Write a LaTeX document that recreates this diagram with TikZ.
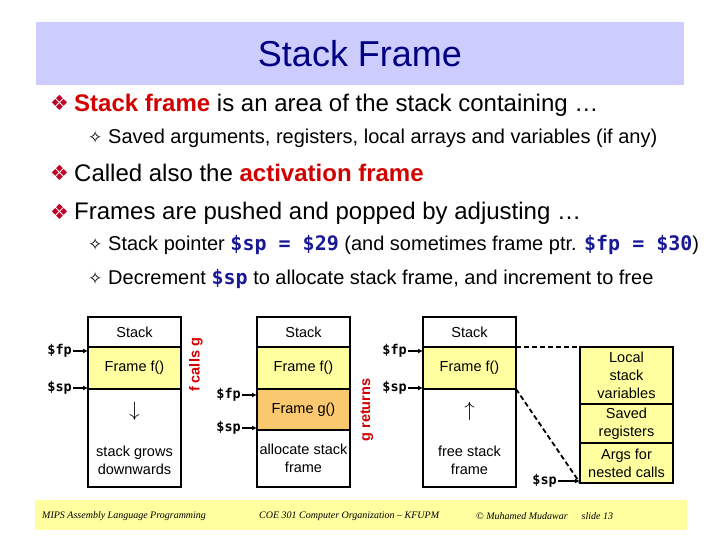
\documentclass[tikz,border=0pt]{standalone}
\usepackage{fontspec}
\setmainfont{Liberation Sans}
\newfontfamily\symfont{DejaVu Sans}
\newfontfamily\codefont{DejaVu Sans Mono}
\newfontfamily\footfont{Liberation Serif}
\usetikzlibrary{arrows.meta, positioning}

\definecolor{titlebar}{RGB}{204,204,255}
\definecolor{titleblue}{RGB}{0,0,128}
\definecolor{keyred}{RGB}{210,0,0}
\definecolor{bulletred}{RGB}{190,0,40}
\definecolor{regblue}{RGB}{25,25,150}
\definecolor{frameyellow}{RGB}{255,255,160}
\definecolor{frameorange}{RGB}{250,200,110}
\definecolor{footyellow}{RGB}{255,255,160}

\newcommand\diabullet{\makebox[24pt][l]{\raisebox{1pt}{\textcolor{bulletred}{\symfont\fontsize{21}{21}\selectfont ❖}}}}
\newcommand\starbullet{\makebox[20pt][l]{\symfont\fontsize{17}{17}\selectfont ✧}}
\newcommand\regname[1]{\textcolor{regblue}{\codefont\bfseries #1}}

\begin{document}
\begin{tikzpicture}[x=1pt, y=-1pt,
    lvlone/.style={anchor=base west, inner sep=0pt, font=\fontsize{24}{28}\selectfont},
    lvltwo/.style={anchor=base west, inner sep=0pt, font=\fontsize{20}{24}\selectfont},
    cell/.style={rectangle, draw, line width=1.7pt, outer sep=0pt, inner sep=0pt,
        minimum width=93pt, align=center, font=\fontsize{14.5}{18}\selectfont},
    ptrlabel/.style={font=\codefont\bfseries\fontsize{13.5}{15}\selectfont, inner sep=1pt},
    ptr/.style={-{Latex[length=5pt,width=5pt]}, line width=1.4pt},
    sidenote/.style={rotate=90, text=keyred, font=\bfseries\fontsize{14.5}{16}\selectfont},
    dashline/.style={dash pattern=on 5pt off 3pt, line width=1.8pt},
    footline/.style={anchor=west, inner sep=0pt, font=\footfont\itshape\fontsize{10}{12}\selectfont}
]
\fill[white] (0,0) rectangle (720,540);
\useasboundingbox (0,0) rectangle (720,540);

\node[fill=titlebar, minimum width=648pt, minimum height=63pt, text=titleblue,
    font=\fontsize{36}{40}\selectfont] (title) at (360,53.5) {Stack Frame};

% bullet text
\node[lvlone] (b1) at (50,112) {\diabullet\textcolor{keyred}{\textbf{Stack frame}} is an area of the stack containing \ldots};
\node[lvltwo] (b1a) at (88,144) {\starbullet Saved arguments, registers, local arrays and variables (if any)};
\node[lvlone] (b2) at (50,182) {\diabullet Called also the \textcolor{keyred}{\textbf{activation frame}}};
\node[lvlone] (b3) at (50,220) {\diabullet Frames are pushed and popped by adjusting \ldots};
\node[lvltwo] (b3a) at (88,251) {\starbullet Stack pointer \regname{\$sp = \$29} (and sometimes frame ptr. \regname{\$fp = \$30})};
\node[lvltwo] (b3b) at (88,284) {\starbullet Decrement \regname{\$sp} to allocate stack frame, and increment to free};

% stack before the call
\node[cell, minimum height=30pt, anchor=north west] (top1) at (88,317) {Stack};
\node[cell, minimum height=42pt, fill=frameyellow, below=0pt of top1] (f1) {Frame f()};
\node[cell, minimum height=98pt, below=0pt of f1] (free1)
    {{\fontsize{22}{22}\selectfont$\downarrow$}\\[22pt]stack grows\\downwards};
\node[ptrlabel, left=15pt of f1.north west, yshift=-4pt] (fp1) {\$fp};
\node[ptrlabel, left=15pt of f1.south west, yshift=1pt] (sp1) {\$sp};
\draw[ptr] (fp1) -- (fp1 -| f1.west);
\draw[ptr] (sp1) -- (sp1 -| f1.west);
\node[sidenote] (fcalls) at (196,365) {f calls g};

% stack during g
\node[cell, minimum height=30pt, anchor=north west] (top2) at (257,317) {Stack};
\node[cell, minimum height=42pt, fill=frameyellow, below=0pt of top2] (f2) {Frame f()};
\node[cell, minimum height=41pt, fill=frameorange, below=0pt of f2] (g2) {Frame g()};
\node[cell, minimum height=57pt, below=0pt of g2] (alloc2) {allocate stack\\frame};
\node[ptrlabel, left=15pt of g2.north west, yshift=-6pt] (fp2) {\$fp};
\node[ptrlabel, left=15pt of g2.south west, yshift=2pt] (sp2) {\$sp};
\draw[ptr] (fp2) -- (fp2 -| g2.west);
\draw[ptr] (sp2) -- (sp2 -| g2.west);
\node[sidenote] (greturns) at (367,410) {g returns};

% stack after the return
\node[cell, minimum height=30pt, anchor=north west] (top3) at (423,317) {Stack};
\node[cell, minimum height=42pt, fill=frameyellow, below=0pt of top3] (f3) {Frame f()};
\node[cell, minimum height=98pt, below=0pt of f3] (free3)
    {{\fontsize{22}{22}\selectfont$\uparrow$}\\[22pt]free stack\\frame};
\node[ptrlabel, left=15pt of f3.north west, yshift=-4pt] (fp3) {\$fp};
\node[ptrlabel, left=15pt of f3.south west, yshift=1pt] (sp3) {\$sp};
\draw[ptr] (fp3) -- (fp3 -| f3.west);
\draw[ptr] (sp3) -- (sp3 -| f3.west);

% contents of frame f()
\node[cell, minimum height=57pt, fill=frameyellow, anchor=north west] (locals) at (580,347) {Local\\stack\\variables};
\node[cell, minimum height=39pt, fill=frameyellow, below=0pt of locals] (saved) {Saved\\registers};
\node[cell, minimum height=40pt, fill=frameyellow, below=0pt of saved] (args) {Args for\\nested calls};
\node[ptrlabel, left=22pt of args.south west, yshift=2pt] (sp4) {\$sp};
\draw[ptr] (sp4) -- (sp4 -| args.west);
\draw[dashline] (f3.north east) -- (locals.north west);
\draw[dashline] (f3.south east) -- (args.south west);

% footer
\node[fill=footyellow, minimum width=652pt, minimum height=30pt, inner sep=0pt] (footer) at (361,515) {};
\node[footline] (course) at (42,516) {MIPS Assembly Language Programming};
\node[footline] (dept) at (259,516) {COE 301 Computer Organization – KFUPM};
\node[footline] (author) at (476,516) {\textcopyright\ Muhamed Mudawar\hspace{14pt}slide 13};
\end{tikzpicture}
\end{document}
